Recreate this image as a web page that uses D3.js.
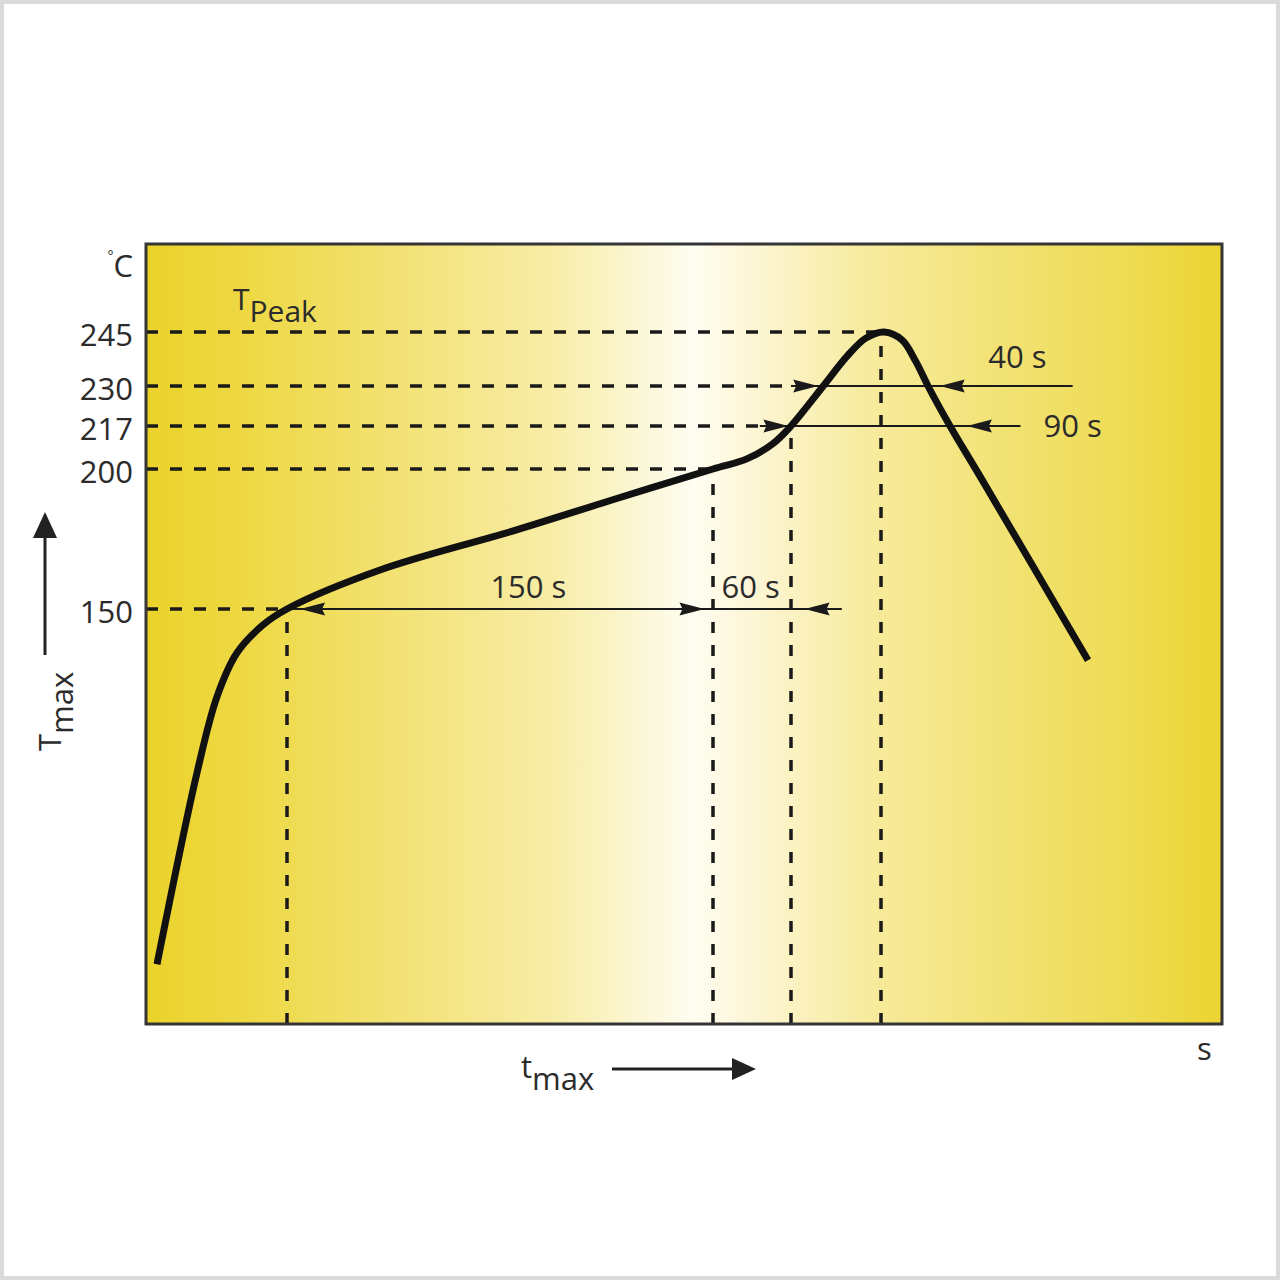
<!DOCTYPE html>
<html>
<head>
	<meta charset="utf-8">
	<script src="https://cdnjs.cloudflare.com/ajax/libs/d3/7.8.5/d3.min.js"></script>
	<style>
		body { margin: 0; background: #fff; }
		text { font-family: "Open Sans", sans-serif; fill: #2b2b2b; }
	</style>
</head>
<body>
	<svg width="1280" height="1280"></svg>
	<script>
		// reflow profile (time in s, temperature in °C)
		const profileTime = [0, 27.7, 41.5, 55.4, 73.4, 90, 123, 170, 205, 240, 266, 286, 300, 319, 327.9, 334.6, 341.3, 348.9, 354.9, 360, 390, 410, 480];
		const profileTemp = [25, 92.4, 119.1, 134.6, 144.4, 150, 164, 178, 189.1, 200, 204, 210, 217, 230, 238.3, 243.3, 245, 242.8, 236.7, 230, 217, 197, 132];

		// temperature ticks
		const tempTicks = [150, 200, 217, 230, 245];

		// schematic (non linear) axes: knots of the drawing
		const tempKnots = [4, 150, 200, 217, 230, 245, 270];
		const timeKnots = [-7, 0, 90, 240, 300, 320, 340, 360, 390, 480, 567];

		// dashed guides: horizontal ones end where the profile reaches them
		const guideTemps = [245, 230, 217, 200, 150];
		const guideEndTimes = [340, 300, 276, 240, 90];
		// vertical guides start on the profile and drop to the time axis
		const dropTimes = [90, 240, 300, 340];
		const dropTemps = [150, 200, 217, 245];

		// dimension lines (temperature, start time, end time)
		const dimTemps = [150, 230, 217];
		const dimStarts = [90, 300, 276];
		const dimEnds = [326, 470, 436];

		// arrow heads on the dimension lines (tip time, direction)
		const headTemps = [150, 150, 150, 230, 230, 217, 217];
		const headTimes = [94.6, 237, 308, 316, 376, 298, 401];
		const headDirs = [-1, 1, -1, 1, -1, 1, -1];

		// duration labels
		const dimLabels = ["150 s", "60 s", "40 s", "90 s"];
		const dimLabelTimes = [175, 269, 434, 451];
		const dimLabelTemps = [150, 150, 230, 217];

		let svg = d3.select("svg"),
			margin = {top: 244, left: 146},
			width = 1076,
			height = 780;

		// light grey frame round the picture
		svg.append("rect")
			.attr("x", 2).attr("y", 2)
			.attr("width", 1276).attr("height", 1276)
			.attr("fill", "none")
			.attr("stroke", "#dadada")
			.attr("stroke-width", 4);

		// background gradient
		let grad = svg.append("defs").append("linearGradient")
			.attr("id", "bg")
			.attr("x1", "0%").attr("x2", "100%")
			.attr("y1", "0%").attr("y2", "0%");
		[[0, "#ebd32a"], [0.1, "#eed946"], [0.25, "#f3e37a"], [0.38, "#f8eda8"], [0.47, "#fcf8dc"],
		 [0.51, "#fffdf1"], [0.57, "#fcf5d2"], [0.67, "#f7eb9e"], [0.8, "#f2e273"], [0.92, "#eedb50"], [1, "#ebd430"]]
			.forEach(function(s) {
				grad.append("stop").attr("offset", s[0]).attr("stop-color", s[1]);
			});

		let g = svg.append("g").attr("transform", "translate(" + margin.left + "," + margin.top + ")");

		// scales
		let x = d3.scaleLinear()
			.domain(timeKnots)
			.range([0, 11, 141, 567, 645, 679, 735, 782, 804, 942, width]);
		let y = d3.scaleLinear()
			.domain(tempKnots)
			.range([height, 365, 225, 182, 142, 88, 0]);

		g.append("rect")
			.attr("width", width)
			.attr("height", height)
			.attr("fill", "url(#bg)");

		// horizontal dashed guides
		g.append("g")
			.selectAll("line")
			.data(guideTemps)
			.enter()
			.append("line")
			.attr("x1", 0)
			.attr("x2", function(d, i) { return x(guideEndTimes[i]); })
			.attr("y1", function(d) { return y(d); })
			.attr("y2", function(d) { return y(d); })
			.attr("stroke", "#1a1a1a")
			.attr("stroke-width", 3.5)
			.attr("stroke-dasharray", "12,12");

		// vertical dashed guides
		g.append("g")
			.selectAll("line")
			.data(dropTimes)
			.enter()
			.append("line")
			.attr("x1", function(d) { return x(d); })
			.attr("x2", function(d) { return x(d); })
			.attr("y1", height)
			.attr("y2", function(d, i) { return y(dropTemps[i]); })
			.attr("stroke", "#1a1a1a")
			.attr("stroke-width", 3.5)
			.attr("stroke-dasharray", "11,12");

		// dimension lines
		g.append("g")
			.selectAll("line")
			.data(dimTemps)
			.enter()
			.append("line")
			.attr("x1", function(d, i) { return x(dimStarts[i]); })
			.attr("x2", function(d, i) { return x(dimEnds[i]); })
			.attr("y1", function(d) { return y(d); })
			.attr("y2", function(d) { return y(d); })
			.attr("stroke", "#1a1a1a")
			.attr("stroke-width", 2.2);

		g.append("g")
			.selectAll("path")
			.data(headTemps)
			.enter()
			.append("path")
			.attr("d", function(d, i) {
				let tx = x(headTimes[i]), ty = y(d), dir = headDirs[i];
				return "M" + tx + "," + ty +
					"L" + (tx - dir * 25) + "," + (ty - 6.5) +
					"L" + (tx - dir * 22) + "," + ty +
					"L" + (tx - dir * 25) + "," + (ty + 6.5) + "Z";
			})
			.attr("fill", "#1a1a1a");

		// the profile itself
		let line = d3.line()
			.x(function(d) { return x(d[0]); })
			.y(function(d) { return y(d[1]); })
			.curve(d3.curveCatmullRom.alpha(0.5));

		g.append("path")
			.datum(d3.zip(profileTime, profileTemp))
			.attr("d", line)
			.attr("fill", "none")
			.attr("stroke", "#111")
			.attr("stroke-width", 7)
			.attr("stroke-linejoin", "round");

		// plot frame
		g.append("rect")
			.attr("width", width)
			.attr("height", height)
			.attr("fill", "none")
			.attr("stroke", "#353535")
			.attr("stroke-width", 3);

		// duration labels
		g.append("g")
			.selectAll("text")
			.data(dimLabels)
			.enter()
			.append("text")
			.attr("x", function(d, i) { return x(dimLabelTimes[i]); })
			.attr("y", function(d, i) {
				let off = [-11, -11, -18, 11];
				return y(dimLabelTemps[i]) + off[i];
			})
			.attr("text-anchor", function(d, i) { return i == 3 ? "start" : "middle"; })
			.style("font-size", "31px")
			.text(function(d) { return d; });

		// temperature tick labels
		g.append("g")
			.selectAll("text")
			.data(tempTicks)
			.enter()
			.append("text")
			.attr("x", -13)
			.attr("y", function(d) { return y(d) + 14; })
			.attr("text-anchor", "end")
			.style("font-size", "31px")
			.text(function(d) { return d; });

		// unit labels
		let deg = svg.append("text")
			.attr("x", 133)
			.attr("y", 277)
			.attr("text-anchor", "end")
			.style("font-size", "31px");
		deg.append("tspan").attr("dy", -16).style("font-size", "14px").text("°");
		deg.append("tspan").attr("dy", 16).text("C");

		svg.append("text")
			.attr("x", 1197)
			.attr("y", 1060)
			.style("font-size", "31px")
			.text("s");

		// T Peak
		let peak = svg.append("text")
			.attr("x", 233)
			.attr("y", 310)
			.style("font-size", "30px");
		peak.append("tspan").text("T");
		peak.append("tspan").attr("dy", 12).text("Peak");

		// T max with arrow up
		let tmax = svg.append("text")
			.attr("transform", "translate(61,751) rotate(-90)")
			.style("font-size", "31px");
		tmax.append("tspan").text("T");
		tmax.append("tspan").attr("dy", 12).text("max");

		svg.append("line")
			.attr("x1", 45).attr("x2", 45)
			.attr("y1", 655).attr("y2", 530)
			.attr("stroke", "#222")
			.attr("stroke-width", 3);
		svg.append("path")
			.attr("d", "M45,512L57,538L33,538Z")
			.attr("fill", "#222");

		// t max with arrow right
		let smax = svg.append("text")
			.attr("x", 521)
			.attr("y", 1078)
			.style("font-size", "31px");
		smax.append("tspan").text("t");
		smax.append("tspan").attr("dy", 12).text("max");

		svg.append("line")
			.attr("x1", 612).attr("x2", 740)
			.attr("y1", 1069).attr("y2", 1069)
			.attr("stroke", "#222")
			.attr("stroke-width", 3);
		svg.append("path")
			.attr("d", "M756,1069L732,1080L732,1058Z")
			.attr("fill", "#222");
	</script>
</body>
</html>
